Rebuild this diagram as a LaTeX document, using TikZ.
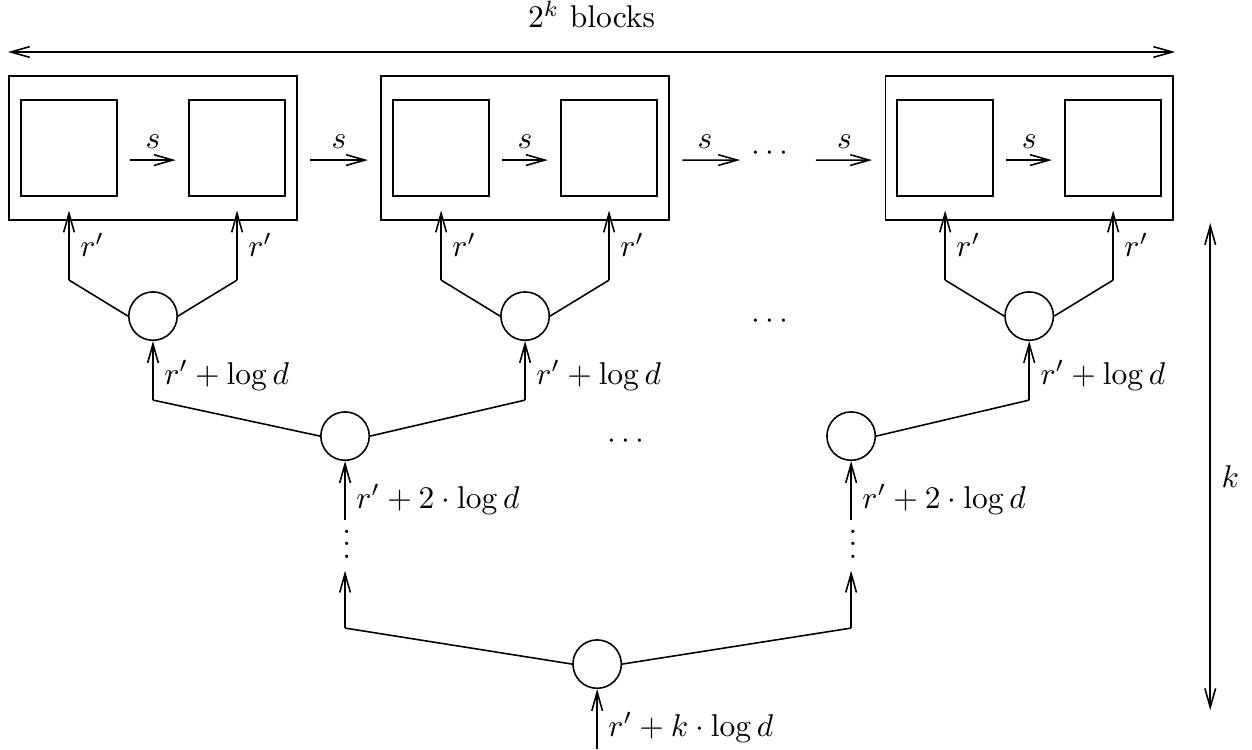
\documentclass[tikz,border=0pt]{standalone}
\usepackage{amsmath,amssymb}
\usepackage{tikz}
\usetikzlibrary{arrows.meta}
\tikzset{
  flowarr/.style={-{Straight Barb[length=6pt,width=3.4pt]},line width=0.5pt},
  spanarr/.style={{Straight Barb[length=6pt,width=3.4pt]}-{Straight Barb[length=6pt,width=3.4pt]},line width=0.5pt},
  joinline/.style={line width=0.5pt},
  blockbox/.style={draw,line width=0.5pt,minimum width=3.21cm,minimum height=1.61cm,inner sep=0pt},
  cellbox/.style={draw,line width=0.5pt,minimum size=1.07cm,inner sep=0pt},
  mergenode/.style={draw,circle,line width=0.5pt,minimum size=0.54cm,inner sep=0pt},
  vdotsnode/.style={inner sep=0pt,text height=9.1pt,text depth=0pt}
}

\begin{document}
\begin{tikzpicture}[x=1cm,y=1cm]
  \useasboundingbox (0,0) rectangle (13.97,-8.36);

  % blocks
  \node[blockbox] (b1) at (1.707,-1.652) {};
  \node[cellbox] (b1l) at (0.770,-1.652) {};
  \node[cellbox] (b1r) at (2.645,-1.652) {};
  \node[blockbox] (b2) at (5.859,-1.652) {};
  \node[cellbox] (b2l) at (4.922,-1.652) {};
  \node[cellbox] (b2r) at (6.796,-1.652) {};
  \node[blockbox] (b3) at (11.484,-1.652) {};
  \node[cellbox] (b3l) at (10.546,-1.652) {};
  \node[cellbox] (b3r) at (12.421,-1.652) {};
  \node (hdots) at (8.616,-1.71) {$\cdots$};

  \coordinate (wl) at (0.089,-0.580); \coordinate (wr) at (13.113,-0.580);
  \draw[spanarr] (wl) -- (wr) node[midway,above=4pt] (wlab) {$2^k$ blocks};

  \draw[flowarr,shorten <=0.14cm,shorten >=0.14cm] ([yshift=-0.134cm]b1l.east) -- ([yshift=-0.134cm]b1r.west) node[midway,above] (s1) {$s$};
  \draw[flowarr,shorten <=0.14cm,shorten >=0.14cm] ([yshift=-0.134cm]b1.east) -- ([yshift=-0.134cm]b2.west) node[midway,above] (s2) {$s$};
  \draw[flowarr,shorten <=0.14cm,shorten >=0.14cm] ([yshift=-0.134cm]b2l.east) -- ([yshift=-0.134cm]b2r.west) node[midway,above] (s3) {$s$};
  \draw[flowarr,shorten <=0.14cm] ([yshift=-0.134cm]b2.east) -- ([yshift=-0.076cm]hdots.west) node[midway,above] (s4) {$s$};
  \draw[flowarr,shorten <=0.13cm,shorten >=0.14cm] ([yshift=-0.076cm]hdots.east) -- ([yshift=-0.134cm]b3.west) node[midway,above] (s5) {$s$};
  \draw[flowarr,shorten <=0.14cm,shorten >=0.14cm] ([yshift=-0.134cm]b3l.east) -- ([yshift=-0.134cm]b3r.west) node[midway,above] (s6) {$s$};

  % first merge level
  \node[mergenode] (c1) at (1.707,-3.527) {};
  \node[mergenode] (c2) at (5.859,-3.527) {};
  \node[mergenode] (c3) at (11.484,-3.527) {};
  \node (mdots1) at (8.616,-3.582) {$\cdots$};

  \coordinate (j1a) at (0.770,-3.125); \coordinate (j1b) at (2.645,-3.125);
  \coordinate (j2a) at (4.922,-3.125); \coordinate (j2b) at (6.796,-3.125);
  \coordinate (j3a) at (10.546,-3.125); \coordinate (j3b) at (12.421,-3.125);
  \draw[flowarr,shorten >=0.153cm] (j1a) -- (b1l.south) node[pos=0.42,right] (r1a) {$r'$};
  \draw[flowarr,shorten >=0.153cm] (j1b) -- (b1r.south) node[pos=0.42,right] (r1b) {$r'$};
  \draw[flowarr,shorten >=0.153cm] (j2a) -- (b2l.south) node[pos=0.42,right] (r2a) {$r'$};
  \draw[flowarr,shorten >=0.153cm] (j2b) -- (b2r.south) node[pos=0.42,right] (r2b) {$r'$};
  \draw[flowarr,shorten >=0.153cm] (j3a) -- (b3l.south) node[pos=0.42,right] (r3a) {$r'$};
  \draw[flowarr,shorten >=0.153cm] (j3b) -- (b3r.south) node[pos=0.42,right] (r3b) {$r'$};
  \draw[joinline] (j1a) -- (c1.west); \draw[joinline] (j1b) -- (c1.east);
  \draw[joinline] (j2a) -- (c2.west); \draw[joinline] (j2b) -- (c2.east);
  \draw[joinline] (j3a) -- (c3.west); \draw[joinline] (j3b) -- (c3.east);

  % second merge level
  \node[mergenode] (d1) at (3.850,-4.866) {};
  \node[mergenode] (d2) at (9.497,-4.866) {};
  \node (mdots2) at (7.008,-4.922) {$\cdots$};

  \coordinate (k1) at (1.707,-4.464); \coordinate (k2) at (5.859,-4.464); \coordinate (k3) at (11.484,-4.464);
  \draw[flowarr] (k1) -- (c1.south) node[pos=0.42,right] (l1) {$r'+\log d$};
  \draw[flowarr] (k2) -- (c2.south) node[pos=0.42,right] (l2) {$r'+\log d$};
  \draw[flowarr] (k3) -- (c3.south) node[pos=0.42,right] (l3) {$r'+\log d$};
  \draw[joinline] (k1) -- (d1.west); \draw[joinline] (k2) -- (d1.east);
  \draw[joinline] (k3) -- (d2.east);

  \coordinate (t1) at (3.850,-5.803); \coordinate (t2) at (9.497,-5.803);
  \draw[flowarr] (t1) -- (d1.south) node[pos=0.35,right] (m1) {$r'+2\cdot\log d$};
  \draw[flowarr] (t2) -- (d2.south) node[pos=0.35,right] (m2) {$r'+2\cdot\log d$};
  \node[vdotsnode] (vd1) at (3.870,-6.071) {$\vdots$};
  \node[vdotsnode] (vd2) at (9.517,-6.071) {$\vdots$};

  % root
  \node[mergenode] (root) at (6.663,-7.410) {};
  \coordinate (q1) at (3.850,-7.008); \coordinate (q2) at (9.497,-7.008);
  \draw[flowarr,shorten >=0.13cm] (q1) -- (q1 |- vd1.south); \draw[flowarr,shorten >=0.13cm] (q2) -- (q2 |- vd2.south);
  \draw[joinline] (q1) -- (root.west); \draw[joinline] (q2) -- (root.east);
  \coordinate (tin) at (6.663,-8.36);
  \draw[flowarr] (tin) -- (root.south) node[pos=0.36,right] (lin) {$r'+k\cdot\log d$};

  % depth
  \coordinate (kt) at (13.504,-2.489); \coordinate (kb) at (13.504,-7.924);
  \draw[spanarr] (kt) -- (kb) node[pos=0.52,right] (klab) {$k$};
\end{tikzpicture}
\end{document}
